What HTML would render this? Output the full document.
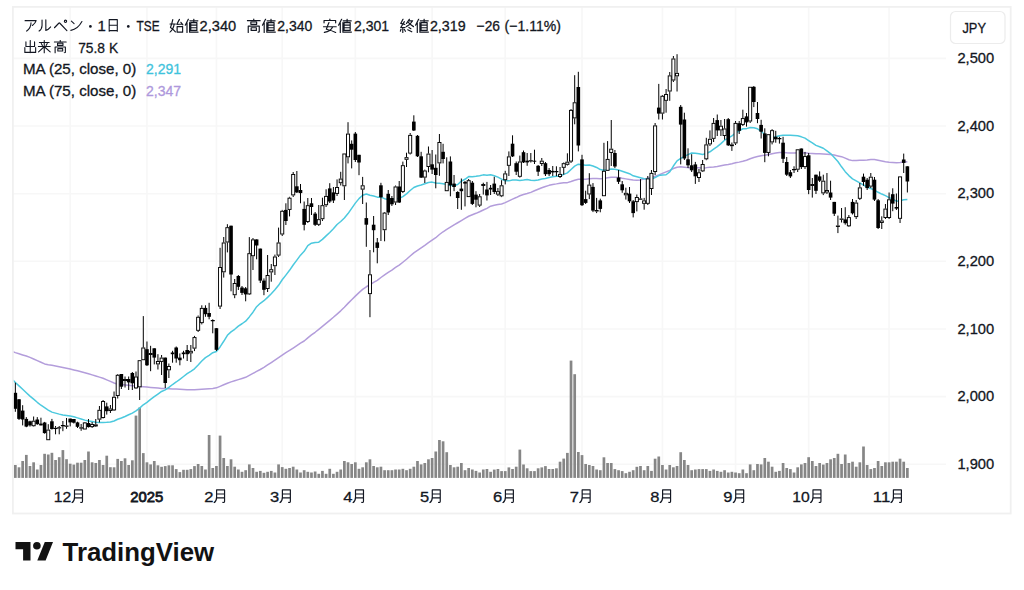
<!DOCTYPE html>
<html><head><meta charset="utf-8"><title>TradingView chart</title>
<style>html,body{margin:0;padding:0;background:#fff;width:1024px;height:590px;overflow:hidden}
svg{display:block;font-family:"Liberation Sans",sans-serif}</style></head>
<body><svg width="1024" height="590" viewBox="0 0 1024 590">
<defs><symbol id="g_a" viewBox="0 0 100 100"><path d="M8 16 H90 Q84 36 62 52 M52 32 Q52 70 20 93" fill="none" stroke="currentColor" stroke-width="8.2" stroke-linecap="round" stroke-linejoin="round"/></symbol><symbol id="g_ru" viewBox="0 0 100 100"><path d="M30 12 V52 Q29 80 8 93 M58 10 V88 Q76 84 94 62" fill="none" stroke="currentColor" stroke-width="8.2" stroke-linecap="round" stroke-linejoin="round"/></symbol><symbol id="g_pe" viewBox="0 0 100 100"><path d="M3 66 L34 34 Q38 30 42 34 L92 86 M82 20 m-8 0 a8 8 0 1 0 16 0 a8 8 0 1 0 -16 0" fill="none" stroke="currentColor" stroke-width="8.2" stroke-linecap="round" stroke-linejoin="round"/></symbol><symbol id="g_n" viewBox="0 0 100 100"><path d="M14 20 L34 38 M10 88 Q62 78 92 22" fill="none" stroke="currentColor" stroke-width="8.2" stroke-linecap="round" stroke-linejoin="round"/></symbol><symbol id="g_hi" viewBox="0 0 100 100"><path d="M20 8 V94 M20 8 H80 V94 M20 50 H80 M20 90 H80" fill="none" stroke="currentColor" stroke-width="8.2" stroke-linecap="round" stroke-linejoin="round"/></symbol><symbol id="g_tsuki" viewBox="0 0 100 100"><path d="M27 8 V58 Q27 84 10 96 M27 8 H82 V86 Q82 96 70 94 M27 36 H82 M27 62 H82" fill="none" stroke="currentColor" stroke-width="8.2" stroke-linecap="round" stroke-linejoin="round"/></symbol><symbol id="g_de" viewBox="0 0 100 100"><path d="M50 4 V94 M18 14 V48 H82 V14 M10 56 V92 H90 V56" fill="none" stroke="currentColor" stroke-width="8.2" stroke-linecap="round" stroke-linejoin="round"/></symbol><symbol id="g_rai" viewBox="0 0 100 100"><path d="M14 18 H86 M6 48 H94 M50 4 V96 M28 26 L36 40 M72 26 L64 40 M47 52 L8 88 M53 52 L94 88" fill="none" stroke="currentColor" stroke-width="8.2" stroke-linecap="round" stroke-linejoin="round"/></symbol><symbol id="g_taka" viewBox="0 0 100 100"><path d="M50 2 V14 M6 15 H94 M30 24 H70 V40 H30 Z M12 96 V52 H88 V90 Q88 95 80 94 M32 64 H68 V82 H32 Z" fill="none" stroke="currentColor" stroke-width="8.2" stroke-linecap="round" stroke-linejoin="round"/></symbol><symbol id="g_yasu" viewBox="0 0 100 100"><path d="M50 2 V13 M10 30 V14 H90 V30 M6 57 H94 M44 28 Q32 55 26 74 Q62 82 90 96 M70 57 Q56 88 12 96" fill="none" stroke="currentColor" stroke-width="8.2" stroke-linecap="round" stroke-linejoin="round"/></symbol><symbol id="g_haji" viewBox="0 0 100 100"><path d="M4 38 H42 M24 8 Q16 45 8 62 Q26 72 42 92 M34 38 Q28 76 4 94 M70 6 L52 40 L90 38 M80 26 L94 44 M54 56 H92 V94 H54 Z" fill="none" stroke="currentColor" stroke-width="8.2" stroke-linecap="round" stroke-linejoin="round"/></symbol><symbol id="g_ne" viewBox="0 0 100 100"><path d="M30 4 L8 46 M20 30 V96 M40 16 H96 M67 4 V26 M46 28 H88 V82 H46 Z M46 46 H88 M46 64 H88 M38 94 H98 M38 28 V94" fill="none" stroke="currentColor" stroke-width="8.2" stroke-linecap="round" stroke-linejoin="round"/></symbol><symbol id="g_owa" viewBox="0 0 100 100"><path d="M24 4 L8 34 L36 40 M33 22 L8 62 H38 M22 62 V96 M10 74 L4 88 M32 74 L40 88 M68 4 L48 34 M60 16 H90 Q74 44 46 56 M62 28 Q76 44 96 56 M64 62 L78 70 M56 78 L84 92" fill="none" stroke="currentColor" stroke-width="8.2" stroke-linecap="round" stroke-linejoin="round"/></symbol></defs>
<rect width="1024" height="590" fill="#fff"/>
<line x1="13" y1="58.4" x2="946" y2="58.4" stroke="#f7f7f7" stroke-width="1.6"/><line x1="13" y1="126.04" x2="946" y2="126.04" stroke="#f7f7f7" stroke-width="1.6"/><line x1="13" y1="193.68" x2="946" y2="193.68" stroke="#f7f7f7" stroke-width="1.6"/><line x1="13" y1="261.32" x2="946" y2="261.32" stroke="#f7f7f7" stroke-width="1.6"/><line x1="13" y1="328.96" x2="946" y2="328.96" stroke="#f7f7f7" stroke-width="1.6"/><line x1="13" y1="396.6" x2="946" y2="396.6" stroke="#f7f7f7" stroke-width="1.6"/><line x1="13" y1="464.24" x2="946" y2="464.24" stroke="#f7f7f7" stroke-width="1.6"/><line x1="70.19" y1="7" x2="70.19" y2="478" stroke="#f7f7f7" stroke-width="1.6"/><line x1="146.96" y1="7" x2="146.96" y2="478" stroke="#f7f7f7" stroke-width="1.6"/><line x1="216.42" y1="7" x2="216.42" y2="478" stroke="#f7f7f7" stroke-width="1.6"/><line x1="282.22" y1="7" x2="282.22" y2="478" stroke="#f7f7f7" stroke-width="1.6"/><line x1="355.34" y1="7" x2="355.34" y2="478" stroke="#f7f7f7" stroke-width="1.6"/><line x1="432.11" y1="7" x2="432.11" y2="478" stroke="#f7f7f7" stroke-width="1.6"/><line x1="505.23" y1="7" x2="505.23" y2="478" stroke="#f7f7f7" stroke-width="1.6"/><line x1="582" y1="7" x2="582" y2="478" stroke="#f7f7f7" stroke-width="1.6"/><line x1="662.43" y1="7" x2="662.43" y2="478" stroke="#f7f7f7" stroke-width="1.6"/><line x1="735.54" y1="7" x2="735.54" y2="478" stroke="#f7f7f7" stroke-width="1.6"/><line x1="808.66" y1="7" x2="808.66" y2="478" stroke="#f7f7f7" stroke-width="1.6"/><line x1="889.09" y1="7" x2="889.09" y2="478" stroke="#f7f7f7" stroke-width="1.6"/><g fill="#868686"><rect x="14" y="465" width="2.7" height="12.9"/><rect x="17.66" y="467.3" width="2.7" height="10.6"/><rect x="21.31" y="461" width="2.7" height="16.9"/><rect x="24.97" y="454.9" width="2.7" height="23"/><rect x="28.62" y="466" width="2.7" height="11.9"/><rect x="32.28" y="462.3" width="2.7" height="15.6"/><rect x="35.93" y="469.5" width="2.7" height="8.4"/><rect x="39.59" y="465" width="2.7" height="12.9"/><rect x="43.25" y="453.8" width="2.7" height="24.1"/><rect x="46.9" y="454.5" width="2.7" height="23.4"/><rect x="50.56" y="452.8" width="2.7" height="25.1"/><rect x="54.21" y="460" width="2.7" height="17.9"/><rect x="57.87" y="457.2" width="2.7" height="20.7"/><rect x="61.53" y="450.1" width="2.7" height="27.8"/><rect x="65.18" y="459.2" width="2.7" height="18.7"/><rect x="68.84" y="463.7" width="2.7" height="14.2"/><rect x="72.49" y="464.6" width="2.7" height="13.3"/><rect x="76.15" y="462.7" width="2.7" height="15.2"/><rect x="79.8" y="462.7" width="2.7" height="15.2"/><rect x="83.46" y="460" width="2.7" height="17.9"/><rect x="87.12" y="451.5" width="2.7" height="26.4"/><rect x="90.77" y="462.3" width="2.7" height="15.6"/><rect x="94.43" y="463" width="2.7" height="14.9"/><rect x="98.08" y="460" width="2.7" height="17.9"/><rect x="101.74" y="465" width="2.7" height="12.9"/><rect x="105.4" y="455.7" width="2.7" height="22.2"/><rect x="109.05" y="467.2" width="2.7" height="10.7"/><rect x="112.71" y="467.3" width="2.7" height="10.6"/><rect x="116.36" y="458.9" width="2.7" height="19"/><rect x="120.02" y="461" width="2.7" height="16.9"/><rect x="123.67" y="458.3" width="2.7" height="19.6"/><rect x="127.33" y="465" width="2.7" height="12.9"/><rect x="130.99" y="460.3" width="2.7" height="17.6"/><rect x="134.64" y="415.6" width="2.7" height="62.3"/><rect x="138.3" y="407.5" width="2.7" height="70.4"/><rect x="141.95" y="453.1" width="2.7" height="24.8"/><rect x="145.61" y="462.3" width="2.7" height="15.6"/><rect x="149.26" y="464.4" width="2.7" height="13.5"/><rect x="152.92" y="461" width="2.7" height="16.9"/><rect x="156.58" y="465.3" width="2.7" height="12.6"/><rect x="160.23" y="466.8" width="2.7" height="11.1"/><rect x="163.89" y="466.1" width="2.7" height="11.8"/><rect x="167.54" y="465.3" width="2.7" height="12.6"/><rect x="171.2" y="465.3" width="2.7" height="12.6"/><rect x="174.86" y="469.1" width="2.7" height="8.8"/><rect x="178.51" y="472.1" width="2.7" height="5.8"/><rect x="182.17" y="469.8" width="2.7" height="8.1"/><rect x="185.82" y="469.8" width="2.7" height="8.1"/><rect x="189.48" y="469.1" width="2.7" height="8.8"/><rect x="193.13" y="466.1" width="2.7" height="11.8"/><rect x="196.79" y="464" width="2.7" height="13.9"/><rect x="200.45" y="466" width="2.7" height="11.9"/><rect x="204.1" y="469.5" width="2.7" height="8.4"/><rect x="207.76" y="435" width="2.7" height="42.9"/><rect x="211.41" y="468" width="2.7" height="9.9"/><rect x="215.07" y="466" width="2.7" height="11.9"/><rect x="218.72" y="435.6" width="2.7" height="42.3"/><rect x="222.38" y="458" width="2.7" height="19.9"/><rect x="226.04" y="466" width="2.7" height="11.9"/><rect x="229.69" y="459.3" width="2.7" height="18.6"/><rect x="233.35" y="466.7" width="2.7" height="11.2"/><rect x="237" y="469.5" width="2.7" height="8.4"/><rect x="240.66" y="471.8" width="2.7" height="6.1"/><rect x="244.32" y="470.2" width="2.7" height="7.7"/><rect x="247.97" y="464.4" width="2.7" height="13.5"/><rect x="251.63" y="468" width="2.7" height="9.9"/><rect x="255.28" y="471.8" width="2.7" height="6.1"/><rect x="258.94" y="470.9" width="2.7" height="7"/><rect x="262.59" y="472.8" width="2.7" height="5.1"/><rect x="266.25" y="471.8" width="2.7" height="6.1"/><rect x="269.91" y="470.9" width="2.7" height="7"/><rect x="273.56" y="472.5" width="2.7" height="5.4"/><rect x="277.22" y="464.4" width="2.7" height="13.5"/><rect x="280.87" y="467.1" width="2.7" height="10.8"/><rect x="284.53" y="468.8" width="2.7" height="9.1"/><rect x="288.19" y="468" width="2.7" height="9.9"/><rect x="291.84" y="466.7" width="2.7" height="11.2"/><rect x="295.5" y="469.5" width="2.7" height="8.4"/><rect x="299.15" y="472.5" width="2.7" height="5.4"/><rect x="302.81" y="470.2" width="2.7" height="7.7"/><rect x="306.46" y="471.8" width="2.7" height="6.1"/><rect x="310.12" y="472.5" width="2.7" height="5.4"/><rect x="313.78" y="471.5" width="2.7" height="6.4"/><rect x="317.43" y="473.8" width="2.7" height="4.1"/><rect x="321.09" y="470.9" width="2.7" height="7"/><rect x="324.74" y="473.8" width="2.7" height="4.1"/><rect x="328.4" y="468.8" width="2.7" height="9.1"/><rect x="332.05" y="473.8" width="2.7" height="4.1"/><rect x="335.71" y="471.8" width="2.7" height="6.1"/><rect x="339.37" y="469.5" width="2.7" height="8.4"/><rect x="343.02" y="461" width="2.7" height="16.9"/><rect x="346.68" y="462.3" width="2.7" height="15.6"/><rect x="350.33" y="464" width="2.7" height="13.9"/><rect x="353.99" y="462.3" width="2.7" height="15.6"/><rect x="357.65" y="468.8" width="2.7" height="9.1"/><rect x="361.3" y="467.3" width="2.7" height="10.6"/><rect x="364.96" y="462.3" width="2.7" height="15.6"/><rect x="368.61" y="459.3" width="2.7" height="18.6"/><rect x="372.27" y="466" width="2.7" height="11.9"/><rect x="375.92" y="467.3" width="2.7" height="10.6"/><rect x="379.58" y="466.7" width="2.7" height="11.2"/><rect x="383.24" y="470.2" width="2.7" height="7.7"/><rect x="386.89" y="470.2" width="2.7" height="7.7"/><rect x="390.55" y="470.2" width="2.7" height="7.7"/><rect x="394.2" y="469.5" width="2.7" height="8.4"/><rect x="397.86" y="469.5" width="2.7" height="8.4"/><rect x="401.51" y="468.8" width="2.7" height="9.1"/><rect x="405.17" y="470.2" width="2.7" height="7.7"/><rect x="408.83" y="468.8" width="2.7" height="9.1"/><rect x="412.48" y="466.7" width="2.7" height="11.2"/><rect x="416.14" y="461" width="2.7" height="16.9"/><rect x="419.79" y="464.4" width="2.7" height="13.5"/><rect x="423.45" y="463" width="2.7" height="14.9"/><rect x="427.11" y="459.3" width="2.7" height="18.6"/><rect x="430.76" y="458" width="2.7" height="19.9"/><rect x="434.42" y="451.5" width="2.7" height="26.4"/><rect x="438.07" y="440" width="2.7" height="37.9"/><rect x="441.73" y="441.3" width="2.7" height="36.6"/><rect x="445.38" y="452.2" width="2.7" height="25.7"/><rect x="449.04" y="465" width="2.7" height="12.9"/><rect x="452.7" y="467.3" width="2.7" height="10.6"/><rect x="456.35" y="466.7" width="2.7" height="11.2"/><rect x="460.01" y="463" width="2.7" height="14.9"/><rect x="463.66" y="470.2" width="2.7" height="7.7"/><rect x="467.32" y="468" width="2.7" height="9.9"/><rect x="470.98" y="469.5" width="2.7" height="8.4"/><rect x="474.63" y="470.9" width="2.7" height="7"/><rect x="478.29" y="472.5" width="2.7" height="5.4"/><rect x="481.94" y="469.5" width="2.7" height="8.4"/><rect x="485.6" y="469" width="2.7" height="8.9"/><rect x="489.25" y="471.8" width="2.7" height="6.1"/><rect x="492.91" y="469.6" width="2.7" height="8.3"/><rect x="496.57" y="469" width="2.7" height="8.9"/><rect x="500.22" y="471.1" width="2.7" height="6.8"/><rect x="503.88" y="471.1" width="2.7" height="6.8"/><rect x="507.53" y="467.4" width="2.7" height="10.5"/><rect x="511.19" y="469" width="2.7" height="8.9"/><rect x="514.84" y="466.7" width="2.7" height="11.2"/><rect x="518.5" y="449.6" width="2.7" height="28.3"/><rect x="522.16" y="464.5" width="2.7" height="13.4"/><rect x="525.81" y="468.3" width="2.7" height="9.6"/><rect x="529.47" y="471.1" width="2.7" height="6.8"/><rect x="533.12" y="471.1" width="2.7" height="6.8"/><rect x="536.78" y="468.3" width="2.7" height="9.6"/><rect x="540.44" y="467.4" width="2.7" height="10.5"/><rect x="544.09" y="466.1" width="2.7" height="11.8"/><rect x="547.75" y="469" width="2.7" height="8.9"/><rect x="551.4" y="469" width="2.7" height="8.9"/><rect x="555.06" y="468.3" width="2.7" height="9.6"/><rect x="558.71" y="461.7" width="2.7" height="16.2"/><rect x="562.37" y="458.6" width="2.7" height="19.3"/><rect x="566.03" y="452.9" width="2.7" height="25"/><rect x="569.68" y="360.6" width="2.7" height="117.3"/><rect x="573.34" y="374.2" width="2.7" height="103.7"/><rect x="576.99" y="452" width="2.7" height="25.9"/><rect x="580.65" y="455.1" width="2.7" height="22.8"/><rect x="584.3" y="464" width="2.7" height="13.9"/><rect x="587.96" y="465" width="2.7" height="12.9"/><rect x="591.62" y="466" width="2.7" height="11.9"/><rect x="595.27" y="469.5" width="2.7" height="8.4"/><rect x="598.93" y="470.2" width="2.7" height="7.7"/><rect x="602.58" y="457.3" width="2.7" height="20.6"/><rect x="606.24" y="463" width="2.7" height="14.9"/><rect x="609.9" y="463" width="2.7" height="14.9"/><rect x="613.55" y="469.1" width="2.7" height="8.8"/><rect x="617.21" y="470.2" width="2.7" height="7.7"/><rect x="620.86" y="471.1" width="2.7" height="6.8"/><rect x="624.52" y="473.2" width="2.7" height="4.7"/><rect x="628.17" y="471.8" width="2.7" height="6.1"/><rect x="631.83" y="470.2" width="2.7" height="7.7"/><rect x="635.49" y="466.8" width="2.7" height="11.1"/><rect x="639.14" y="466" width="2.7" height="11.9"/><rect x="642.8" y="470.2" width="2.7" height="7.7"/><rect x="646.45" y="466" width="2.7" height="11.9"/><rect x="650.11" y="470.9" width="2.7" height="7"/><rect x="653.76" y="458.7" width="2.7" height="19.2"/><rect x="657.42" y="456.5" width="2.7" height="21.4"/><rect x="661.08" y="465" width="2.7" height="12.9"/><rect x="664.73" y="469.5" width="2.7" height="8.4"/><rect x="668.39" y="465" width="2.7" height="12.9"/><rect x="672.04" y="467.3" width="2.7" height="10.6"/><rect x="675.7" y="466" width="2.7" height="11.9"/><rect x="679.36" y="452.2" width="2.7" height="25.7"/><rect x="683.01" y="460" width="2.7" height="17.9"/><rect x="686.67" y="465" width="2.7" height="12.9"/><rect x="690.32" y="470.2" width="2.7" height="7.7"/><rect x="693.98" y="469.5" width="2.7" height="8.4"/><rect x="697.63" y="469.1" width="2.7" height="8.8"/><rect x="701.29" y="469.1" width="2.7" height="8.8"/><rect x="704.95" y="469.1" width="2.7" height="8.8"/><rect x="708.6" y="470.9" width="2.7" height="7"/><rect x="712.26" y="469.5" width="2.7" height="8.4"/><rect x="715.91" y="470.9" width="2.7" height="7"/><rect x="719.57" y="471.8" width="2.7" height="6.1"/><rect x="723.23" y="470.2" width="2.7" height="7.7"/><rect x="726.88" y="472.5" width="2.7" height="5.4"/><rect x="730.54" y="471.8" width="2.7" height="6.1"/><rect x="734.19" y="472.5" width="2.7" height="5.4"/><rect x="737.85" y="473.2" width="2.7" height="4.7"/><rect x="741.5" y="469.5" width="2.7" height="8.4"/><rect x="745.16" y="473.2" width="2.7" height="4.7"/><rect x="748.82" y="464.4" width="2.7" height="13.5"/><rect x="752.47" y="470.2" width="2.7" height="7.7"/><rect x="756.13" y="464" width="2.7" height="13.9"/><rect x="759.78" y="464.4" width="2.7" height="13.5"/><rect x="763.44" y="458" width="2.7" height="19.9"/><rect x="767.09" y="461.7" width="2.7" height="16.2"/><rect x="770.75" y="466.7" width="2.7" height="11.2"/><rect x="774.41" y="471.8" width="2.7" height="6.1"/><rect x="778.06" y="470.9" width="2.7" height="7"/><rect x="781.72" y="463" width="2.7" height="14.9"/><rect x="785.37" y="468" width="2.7" height="9.9"/><rect x="789.03" y="469.1" width="2.7" height="8.8"/><rect x="792.69" y="472.5" width="2.7" height="5.4"/><rect x="796.34" y="467.3" width="2.7" height="10.6"/><rect x="800" y="464.4" width="2.7" height="13.5"/><rect x="803.65" y="463" width="2.7" height="14.9"/><rect x="807.31" y="457.2" width="2.7" height="20.7"/><rect x="810.96" y="461" width="2.7" height="16.9"/><rect x="814.62" y="466" width="2.7" height="11.9"/><rect x="818.28" y="463" width="2.7" height="14.9"/><rect x="821.93" y="464.6" width="2.7" height="13.3"/><rect x="825.59" y="463" width="2.7" height="14.9"/><rect x="829.24" y="459.3" width="2.7" height="18.6"/><rect x="832.9" y="458" width="2.7" height="19.9"/><rect x="836.56" y="453.8" width="2.7" height="24.1"/><rect x="840.21" y="464" width="2.7" height="13.9"/><rect x="843.87" y="454.5" width="2.7" height="23.4"/><rect x="847.52" y="463" width="2.7" height="14.9"/><rect x="851.18" y="461.7" width="2.7" height="16.2"/><rect x="854.83" y="466.7" width="2.7" height="11.2"/><rect x="858.49" y="462.3" width="2.7" height="15.6"/><rect x="862.15" y="446.5" width="2.7" height="31.4"/><rect x="865.8" y="465" width="2.7" height="12.9"/><rect x="869.46" y="469.1" width="2.7" height="8.8"/><rect x="873.11" y="468" width="2.7" height="9.9"/><rect x="876.77" y="461" width="2.7" height="16.9"/><rect x="880.42" y="466" width="2.7" height="11.9"/><rect x="884.08" y="462.3" width="2.7" height="15.6"/><rect x="887.74" y="462.3" width="2.7" height="15.6"/><rect x="891.39" y="461.7" width="2.7" height="16.2"/><rect x="895.05" y="461.7" width="2.7" height="16.2"/><rect x="898.7" y="458.7" width="2.7" height="19.2"/><rect x="902.36" y="461.7" width="2.7" height="16.2"/><rect x="906.02" y="468" width="2.7" height="9.9"/></g><polyline points="13,351.82 15.35,352.62 19.01,353.76 22.66,354.91 26.32,356.05 29.97,357.37 33.63,359.01 37.28,360.66 40.94,362.3 44.6,363.94 48.25,364.76 51.91,365.35 55.56,365.93 59.22,366.66 62.88,367.44 66.53,368.22 70.19,369.02 73.84,369.93 77.5,370.84 81.15,371.74 84.81,372.66 88.47,373.78 92.12,374.89 95.78,376 99.43,377.11 103.09,378.24 106.75,379.84 110.4,381.43 114.06,383.03 117.71,384.22 121.37,384.6 125.02,384.98 128.68,385.35 132.34,385.73 135.99,386.11 139.65,386.45 143.3,386.78 146.96,387.12 150.61,387.45 154.27,387.79 157.93,388.12 161.58,388.43 165.24,388.6 168.89,388.77 172.55,388.95 176.21,389.12 179.86,389.29 183.52,389.48 187.17,389.66 190.83,389.85 194.48,389.71 198.14,389.45 201.8,389.19 205.45,388.93 209.11,388.67 212.76,388.4 216.42,387.86 220.07,386.32 223.73,384.79 227.39,383.25 231.04,381.85 234.7,380.74 238.35,379.62 242.01,378.5 245.67,377.3 249.32,375.35 252.98,373.4 256.63,371.45 260.29,369.5 263.94,367.44 267.6,364.99 271.26,362.55 274.91,360.1 278.57,357.66 282.22,355.16 285.88,352.55 289.54,350.43 293.19,348.08 296.85,345.63 300.5,343.1 304.16,341.02 307.81,337.85 311.47,334.95 315.13,332.28 318.78,329.43 322.44,326.44 326.09,323.33 329.75,320.31 333.4,317.29 337.06,314.11 340.72,310.82 344.37,307.24 348.03,303.38 351.68,299.69 355.34,296.12 359,292.66 362.65,289.43 366.31,286.78 369.96,284.78 373.62,282.38 377.27,280.34 380.93,277.49 384.59,274.87 388.24,272.42 391.9,270.14 395.55,267.47 399.21,265.12 402.86,262.23 406.52,259.21 410.18,255.99 413.83,252.93 417.49,250.38 421.14,247.87 424.8,245.44 428.46,242.72 432.11,240.17 435.77,237.73 439.42,234.52 443.08,231.76 446.73,229.46 450.39,227.15 454.05,224.85 457.7,222.76 461.36,220.59 465.01,218.36 468.67,216.27 472.33,214.76 475.98,213.32 479.64,211.75 483.29,209.98 486.95,208.32 490.6,206.18 494.26,205.18 497.92,204.49 501.57,203.94 505.23,202.59 508.88,200.9 512.54,199.16 516.19,197.55 519.85,195.77 523.51,194.56 527.16,193.54 530.82,192.4 534.47,190.81 538.13,189.24 541.79,187.71 545.44,186.45 549.1,185.35 552.75,184.41 556.41,183.88 560.06,183.25 563.72,182.79 567.38,182.63 571.03,181.53 574.69,180.32 578.34,179.26 582,179.26 585.65,179.21 589.31,178.67 592.97,178.56 596.62,178.62 600.28,178.79 603.93,178.39 607.59,177.83 611.25,177.32 614.9,177.16 618.56,177.54 622.21,178.29 625.87,178.87 629.52,179.42 633.18,180.09 636.84,180.25 640.49,179.9 644.15,178.91 647.8,178.22 651.46,177.22 655.12,176.27 658.77,174.95 662.43,173.39 666.08,171.92 669.74,170.44 673.39,168.52 677.05,167.29 680.71,166.85 684.36,167.17 688.02,167.63 691.67,167.82 695.33,167.8 698.98,167.82 702.64,167.96 706.3,167.63 709.95,167.14 713.61,166.89 717.26,166.51 720.92,165.76 724.58,165 728.23,164.45 731.89,163.73 735.54,162.82 739.2,162.12 742.85,161.29 746.51,160.2 750.17,158.7 753.82,157.44 757.48,156.57 761.13,155.72 764.79,155.23 768.44,154.46 772.1,153.65 775.76,153.04 779.41,152.57 783.07,152.6 786.72,152.84 790.38,152.9 794.04,153 797.69,152.83 801.35,152.89 805,152.84 808.66,153.22 812.31,153.38 815.97,153.78 819.63,153.87 823.28,153.96 826.94,154.19 830.59,154.55 834.25,155.08 837.91,155.91 841.56,156.66 845.22,158.17 848.87,159.71 852.53,160.61 856.18,160.57 859.84,160.37 863.5,160.33 867.15,160.03 870.81,159.59 874.46,159.47 878.12,160.23 881.77,161.05 885.43,161.85 889.09,162.29 892.74,162.58 896.4,162.82 900.05,162.6 903.71,162.09 907.37,161.67" fill="none" stroke="#b39ddb" stroke-width="1.5" stroke-linejoin="round"/><polyline points="13,380.1 15.35,382.49 19.01,385.9 22.66,389.31 26.32,392.72 29.97,396.09 33.63,399.19 37.28,402.29 40.94,405.22 44.6,407.62 48.25,410.03 51.91,412.12 55.56,413.12 59.22,414.11 62.88,414.91 66.53,415.51 70.19,416.11 73.84,416.79 77.5,417.9 81.15,419.01 84.81,420.12 88.47,420.9 92.12,421.61 95.78,422.32 99.43,422.6 103.09,422.39 106.75,422.33 110.4,422.07 114.06,420.95 117.71,419.29 121.37,417.93 125.02,416.47 128.68,414.8 132.34,413.11 135.99,410.85 139.65,408.07 143.3,404.81 146.96,402.31 150.61,399.34 154.27,396.65 157.93,394.07 161.58,391.48 165.24,389.89 168.89,387.46 172.55,384.53 176.21,381.98 179.86,379.3 183.52,376.51 187.17,373.7 190.83,371.34 194.48,368.78 198.14,365.01 201.8,360.98 205.45,357.68 209.11,355.36 212.76,352.69 216.42,351.52 220.07,346.91 223.73,341.28 227.39,335.3 231.04,331.88 234.7,329.3 238.35,326.16 242.01,323.75 245.67,321.22 249.32,316.91 252.98,312.18 256.63,306.68 260.29,303.27 263.94,300.69 267.6,297.35 271.26,293.71 274.91,289.8 278.57,285.34 282.22,279.74 285.88,275.09 289.54,270.33 293.19,264.97 296.85,260.1 300.5,255.15 304.16,251.34 307.81,245.56 311.47,243.16 315.13,242.45 318.78,242.13 322.44,239.36 326.09,235.88 329.75,232.46 333.4,228.77 337.06,224.47 340.72,221.49 344.37,218.05 348.03,213.58 351.68,208.34 355.34,203.15 359,198.65 362.65,195.29 366.31,194.02 369.96,195.29 373.62,196.07 377.27,197.14 380.93,197.12 384.59,198.67 388.24,199.47 391.9,199.92 395.55,198.39 399.21,198.28 402.86,196.61 406.52,193.9 410.18,190.53 413.83,187.54 417.49,185.96 421.14,185 424.8,183.8 428.46,182.47 432.11,182.11 435.77,182.97 439.42,183.3 443.08,183.68 446.73,184.55 450.39,185.46 454.05,185.53 457.7,184.46 461.36,181.14 465.01,179.28 468.67,176.57 472.33,176.84 475.98,176.32 479.64,175.67 483.29,174.86 486.95,175.22 490.6,174.7 494.26,175.77 497.92,177.13 501.57,179.14 505.23,180.86 508.88,180.86 512.54,180.02 516.19,180.06 519.85,180.38 523.51,180.09 527.16,179.59 530.82,180.32 534.47,180.42 538.13,180.01 541.79,179.02 545.44,178.51 549.1,177.56 552.75,176.81 556.41,176.3 560.06,176.05 563.72,174.42 567.38,172.9 571.03,169.45 574.69,166.18 578.34,164.18 582,164.81 585.65,165.25 589.31,164.98 592.97,166 596.62,167.46 600.28,169.56 603.93,170.14 607.59,169.62 611.25,169.11 614.9,169.28 618.56,170.05 622.21,171.26 625.87,172.51 629.52,173.69 633.18,175.79 636.84,176.7 640.49,177.67 644.15,178.79 647.8,179.09 651.46,179.05 655.12,177.54 658.77,175.61 662.43,175.05 666.08,174.72 669.74,171.91 673.39,166.04 677.05,160.84 680.71,158.44 684.36,156.36 688.02,154.57 691.67,153.03 695.33,153.25 698.98,153.78 702.64,154.4 706.3,153.51 709.95,151.79 713.61,149.1 717.26,146.6 720.92,143.58 724.58,140.19 728.23,138.12 731.89,135.96 735.54,132.86 739.2,130.96 742.85,128.76 746.51,128.64 750.17,127.57 753.82,127.82 757.48,128.82 761.13,131.07 764.79,134.85 768.44,137.3 772.1,137.52 775.76,136.76 779.41,135.66 783.07,135.2 786.72,135.14 790.38,135.3 794.04,135.5 797.69,135.7 801.35,136.83 805,138.16 808.66,140.54 812.31,142.88 815.97,145.37 819.63,146.78 823.28,148.24 826.94,150.92 830.59,153.59 834.25,157.42 837.91,161.54 841.56,166.81 845.22,171.66 848.87,175.58 852.53,178.84 856.18,180.83 859.84,182.96 863.5,185.03 867.15,186.98 870.81,188.53 874.46,190.16 878.12,192.3 881.77,194.06 885.43,195.64 889.09,197.64 892.74,199.1 896.4,201.2 900.05,200.66 903.71,199.82 907.37,199.44" fill="none" stroke="#4cc9de" stroke-width="1.5" stroke-linejoin="round"/><path d="M15.35 382.7V411.8M19.01 399V420M22.66 405.2V425.4M26.32 417.1V427.2M29.97 420.7V426.6M33.63 416.5V420.7M33.63 426.2V426.6M37.28 417.1V424.8M40.94 417.7V425.4M44.6 421.9V433.7M48.25 424.2V429.6M51.91 418.9V429.6M55.56 426V427.8M55.56 429V434.3M59.22 426V427.2M59.22 428.2V434.3M62.88 421V425M62.88 426V431.2M66.53 418V425.5M66.53 426.5V428.8M70.19 418.6V426.4M73.84 419V423.5M77.5 421.7V428M81.15 424V427.3M81.15 428.3V430.8M84.81 422V422.4M88.47 419V427.5M92.12 422V424M92.12 427.1V428M95.78 419V424.4M95.78 426.4V427M99.43 406V409.8M99.43 419.6V422.4M103.09 400V401M103.09 418V418.5M106.75 402.7V414.6M110.4 405V408.5M110.4 411V413M114.06 391.5V396.8M114.06 410.4V411M117.71 374V374.8M117.71 396V398.5M121.37 374V389M125.02 376.5V379M125.02 381V387.5M128.68 376.5V390M132.34 372V390M135.99 371.5V376.5M135.99 388.4V389M139.65 387.3V400M143.3 316.1V347.5M146.96 341.5V366M150.61 345.8V353M150.61 355V371.2M154.27 348.3V364.4M157.93 354.2V361M157.93 364.4V369.5M161.58 355V357.6M161.58 361.9V375M165.24 357.6V388M168.89 363.5V366M168.89 370.3V378M172.55 350.8V362.7M176.21 346.5V362.7M179.86 353.4V365.3M183.52 350.8V358.5M187.17 345V361M190.83 345V350.8M190.83 353.4V362M194.48 335.9V337.1M194.48 348.6V351.1M198.14 315.5V316.8M198.14 330.8V332M201.8 305.3V307.9M201.8 323.1V324.4M205.45 305.3V316.8M209.11 302.8V319.3M212.76 319.3V320M212.76 321V333.3M216.42 328V351M220.07 247.8V267M220.07 306.6V309M223.73 237V242.5M223.73 272.3V277.6M227.39 224.2V227.2M227.39 242.5V252.4M231.04 225.7V291.3M234.7 279V283M234.7 295.2V298.2M238.35 275V290M242.01 286V295M245.67 287V301.3M249.32 237.1V253.2M249.32 294.4V295M252.98 238V239.4M252.98 256.2V270M256.63 239.4V259.3M260.29 248.6V283M263.94 278.4V295.2M267.6 255V275M267.6 289V292M271.26 264V269.2M271.26 272.4V281.7M274.91 254.6V256.5M274.91 266.2V275M278.57 227.6V242.5M278.57 255.6V257M282.22 209.9V210.8M282.22 234.5V236M285.88 203.3V225M289.54 196.8V197.7M289.54 209.9V216.4M293.19 172V174M293.19 195.4V197M296.85 171V193M300.5 184V203.3M304.16 201.5V230.4M307.81 198V205.2M307.81 222V223M311.47 198V215M315.13 212V226M318.78 205V219.2M318.78 224.8V226M322.44 197.7V205.2M322.44 219.2V221M326.09 189.3V195.9M326.09 205.2V207M329.75 183.2V203M333.4 187V203M337.06 179.4V187M337.06 193.9V196M340.72 171.8V178.6M340.72 183.2V185.5M344.37 186.3V200M348.03 122.2V133.6M348.03 157.3V163.4M351.68 140.4V168.4M355.34 132V162M359 154.8V175.2M362.65 176.9V185.3M362.65 189.6V204M366.31 202.5V246.8M369.96 250V274.3M369.96 294.1V317.2M373.62 216V252.3M377.27 238V263.3M380.93 182.8V241M384.59 212V212.6M384.59 230.2V241.3M388.24 190V215M391.9 196V206M395.55 185.5V186.5M395.55 202.5V205M399.21 181V203M402.86 161.6V165.2M402.86 191.9V193M406.52 152.7V157.2M406.52 159.8V167M410.18 133V134.9M410.18 153.6V154.5M413.83 115.3V131M417.49 135V157M421.14 151.8V178M424.8 169.6V170.5M424.8 177.6V183M428.46 146.5V153.6M428.46 167V172.3M432.11 150V174M435.77 154.5V188.3M439.42 134V142M439.42 163.4V175.8M443.08 143.8V163.4M446.73 157.3V181.9M450.39 156.4V196.3M454.05 175V191.2M457.7 191.2V209M461.36 178.5V209.8M465.01 181V206.4M468.67 179V180.2M472.33 181V205M475.98 191.2V207.3M479.64 194V196.3M479.64 205.6V207M483.29 182.7V184M483.29 186V194.6M486.95 181.9V200.5M490.6 185V195M494.26 176.8V194M497.92 188V191.2M497.92 194.6V196M501.57 180.2V185.3M501.57 196.3V197.1M505.23 170.8V173.4M505.23 180.2V184.4M508.88 151.4V156.4M508.88 165.8V176M512.54 135.3V157M516.19 161.5V175M519.85 155.6V161.5M519.85 176.8V177.6M523.51 150.5V163M527.16 153V165.8M530.82 153V160.2M530.82 161.2V162.5M534.47 149.7V164M538.13 165V176M541.79 158V160.7M541.79 164V166M545.44 162V176M549.1 168V176M552.75 166V176M556.41 166.3V171M556.41 172V176.2M560.06 167V173.9M560.06 177V178M563.72 162.5V163.2M563.72 167.8V174.7M567.38 153.3V161.7M567.38 164.8V165.5M571.03 109V109.9M571.03 161.6V163M574.69 75.2V102.3M574.69 118.4V124.3M578.34 71.8V151.4M582 154.8V206M585.65 190.7V204M589.31 173.2V184.6M589.31 194.5V199.1M592.97 183.1V212.1M596.62 197.9V210M596.62 211.5V213.1M600.28 198.7V212.3M603.93 142.8V170.8M607.59 141.1V158.9M611.25 120V148.7M611.25 153V166M614.9 150V168M618.56 170V184M622.21 181V192.8M625.87 187.7V192.8M625.87 195.3V199.6M629.52 187V203M633.18 200V217.4M636.84 194.5V197M636.84 202.1V211.4M640.49 179.2V198.5M644.15 197.9V200.4M644.15 203.8V209.7M647.8 176V178.4M647.8 203.8V205M651.46 170V172.9M651.46 189V195M655.12 123V125.4M655.12 172V175M658.77 83.9V119.5M662.43 95V95.8M662.43 113.6V119.5M666.08 89V94M666.08 100.8V112.7M669.74 72V75.4M669.74 91.5V100.8M673.39 56V58.5M673.39 80.5V82M677.05 54.2V72.9M677.05 76.3V91.5M680.71 105V164.4M684.36 112.7V160M688.02 148.3V168M691.67 154.2V172M695.33 161.9V183.9M698.98 169V172.3M698.98 178V182M702.64 160V164M702.64 171.4V172M706.3 137.8V144.4M706.3 159.3V160.2M709.95 130.4V138.8M709.95 144.4V146M713.61 118V122.9M713.61 138.8V142M717.26 114.5V136M720.92 120V125.7M720.92 130.4V136M724.58 119V128.5M724.58 136V139.7M728.23 118V146M731.89 142.5V144.4M731.89 146.2V150.9M735.54 121V122.9M735.54 143.4V145M739.2 121V134M742.85 109.7V118.1M742.85 124.9V126M746.51 113V126.6M750.17 121.5V123M753.82 86V107.1M757.48 102V123.2M761.13 119.8V138.5M764.79 128.3V162.2M768.44 152.9V156.3M772.1 129.2V130.2M772.1 142.4V144.4M775.76 130.8V142.7M779.41 136.8V138M779.41 139V143.6M783.07 136.8V163M786.72 157V176M790.38 170V178M794.04 166.3V169M794.04 170V173M797.69 169.7V172M801.35 148.5V169M805 151.9V156.1M805 167.1V169M808.66 153V194.2M812.31 178V184M812.31 186V197.6M815.97 174.7V194M819.63 171.4V182M823.28 174.7V180.7M823.28 193.4V195.1M826.94 173V190M826.94 192.5V194M830.59 180.7V200M834.25 201.9V216M837.91 215.6V225.5M837.91 227V233.1M841.56 208V218.5M841.56 219.8V222.5M845.22 207.2V224.7M848.87 215V217.1M848.87 226.3V227M852.53 199V214.5M856.18 200V202.6M856.18 217.1V219M859.84 183V187.4M859.84 198.8V200M863.5 173.6V185.8M867.15 178V190M870.81 173V176.7M870.81 186.6V188M874.46 177V201M878.12 199V229M881.77 216.3V220.5M881.77 223V229M885.43 204V208.6M885.43 218V219M889.09 192.5V199.3M889.09 218V219M892.74 188.3V211.2M896.4 193.5V210M900.05 218.8V223M903.71 153.6V173M907.37 166.3V192.5" stroke="#000" stroke-width="1" fill="none"/><rect x="13.55" y="392.8" width="3.6" height="16" fill="#000"/><rect x="17.21" y="399.3" width="3.6" height="19.6" fill="#000"/><rect x="20.86" y="410.6" width="3.6" height="8.9" fill="#000"/><rect x="24.52" y="418.9" width="3.6" height="7.7" fill="#000"/><rect x="28.17" y="421.3" width="3.6" height="4.1" fill="#000"/><rect x="32.1" y="421.18" width="3.05" height="4.55" fill="#fff" stroke="#000" stroke-width="0.95"/><rect x="35.48" y="419.5" width="3.6" height="4.7" fill="#000"/><rect x="39.14" y="423.6" width="3.6" height="1.8" fill="#000"/><rect x="42.8" y="422.5" width="3.6" height="10.6" fill="#000"/><rect x="46.73" y="430.08" width="3.05" height="9.65" fill="#fff" stroke="#000" stroke-width="0.95"/><rect x="50.11" y="421.3" width="3.6" height="7.7" fill="#000"/><rect x="54.04" y="428.28" width="3.05" height="0.3" fill="#fff" stroke="#000" stroke-width="0.95"/><rect x="57.69" y="427.68" width="3.05" height="0.3" fill="#fff" stroke="#000" stroke-width="0.95"/><rect x="61.35" y="425.48" width="3.05" height="0.3" fill="#fff" stroke="#000" stroke-width="0.95"/><rect x="65.01" y="425.98" width="3.05" height="0.3" fill="#fff" stroke="#000" stroke-width="0.95"/><rect x="68.39" y="418.6" width="3.6" height="3.8" fill="#000"/><rect x="72.04" y="419" width="3.6" height="3.7" fill="#000"/><rect x="75.7" y="422.4" width="3.6" height="4.4" fill="#000"/><rect x="79.63" y="427.78" width="3.05" height="0.3" fill="#fff" stroke="#000" stroke-width="0.95"/><rect x="83.29" y="422.88" width="3.05" height="6.15" fill="#fff" stroke="#000" stroke-width="0.95"/><rect x="86.67" y="423" width="3.6" height="4.1" fill="#000"/><rect x="90.6" y="424.48" width="3.05" height="2.15" fill="#fff" stroke="#000" stroke-width="0.95"/><rect x="94.25" y="424.88" width="3.05" height="1.05" fill="#fff" stroke="#000" stroke-width="0.95"/><rect x="97.91" y="410.28" width="3.05" height="8.85" fill="#fff" stroke="#000" stroke-width="0.95"/><rect x="101.56" y="401.48" width="3.05" height="16.05" fill="#fff" stroke="#000" stroke-width="0.95"/><rect x="104.95" y="406.4" width="3.6" height="4.8" fill="#000"/><rect x="108.88" y="408.98" width="3.05" height="1.55" fill="#fff" stroke="#000" stroke-width="0.95"/><rect x="112.53" y="397.28" width="3.05" height="12.65" fill="#fff" stroke="#000" stroke-width="0.95"/><rect x="116.19" y="375.28" width="3.05" height="20.25" fill="#fff" stroke="#000" stroke-width="0.95"/><rect x="119.57" y="374" width="3.6" height="12.7" fill="#000"/><rect x="123.5" y="379.48" width="3.05" height="1.05" fill="#fff" stroke="#000" stroke-width="0.95"/><rect x="126.88" y="379" width="3.6" height="3.4" fill="#000"/><rect x="130.54" y="373" width="3.6" height="10.3" fill="#000"/><rect x="134.47" y="376.98" width="3.05" height="10.95" fill="#fff" stroke="#000" stroke-width="0.95"/><rect x="138.12" y="360.68" width="3.05" height="26.15" fill="#fff" stroke="#000" stroke-width="0.95"/><rect x="141.78" y="347.98" width="3.05" height="11.75" fill="#fff" stroke="#000" stroke-width="0.95"/><rect x="145.16" y="349.2" width="3.6" height="16.1" fill="#000"/><rect x="149.09" y="353.48" width="3.05" height="1.05" fill="#fff" stroke="#000" stroke-width="0.95"/><rect x="152.47" y="348.3" width="3.6" height="9.3" fill="#000"/><rect x="156.4" y="361.48" width="3.05" height="2.45" fill="#fff" stroke="#000" stroke-width="0.95"/><rect x="160.06" y="358.08" width="3.05" height="3.35" fill="#fff" stroke="#000" stroke-width="0.95"/><rect x="163.44" y="357.6" width="3.6" height="25.4" fill="#000"/><rect x="167.37" y="366.48" width="3.05" height="3.35" fill="#fff" stroke="#000" stroke-width="0.95"/><rect x="170.75" y="352.5" width="3.6" height="1.7" fill="#000"/><rect x="174.41" y="347.5" width="3.6" height="11" fill="#000"/><rect x="178.06" y="357.6" width="3.6" height="2.6" fill="#000"/><rect x="181.72" y="352.5" width="3.6" height="1.7" fill="#000"/><rect x="185.37" y="350" width="3.6" height="4.2" fill="#000"/><rect x="189.3" y="351.28" width="3.05" height="1.65" fill="#fff" stroke="#000" stroke-width="0.95"/><rect x="192.96" y="337.58" width="3.05" height="10.55" fill="#fff" stroke="#000" stroke-width="0.95"/><rect x="196.62" y="317.28" width="3.05" height="13.05" fill="#fff" stroke="#000" stroke-width="0.95"/><rect x="200.27" y="308.38" width="3.05" height="14.25" fill="#fff" stroke="#000" stroke-width="0.95"/><rect x="203.65" y="307.9" width="3.6" height="6.3" fill="#000"/><rect x="207.31" y="313" width="3.6" height="3.8" fill="#000"/><rect x="211.24" y="320.48" width="3.05" height="0.3" fill="#fff" stroke="#000" stroke-width="0.95"/><rect x="214.62" y="328.2" width="3.6" height="21.6" fill="#000"/><rect x="218.55" y="267.48" width="3.05" height="38.65" fill="#fff" stroke="#000" stroke-width="0.95"/><rect x="222.21" y="242.97" width="3.05" height="28.85" fill="#fff" stroke="#000" stroke-width="0.95"/><rect x="225.86" y="227.67" width="3.05" height="14.35" fill="#fff" stroke="#000" stroke-width="0.95"/><rect x="229.24" y="225.7" width="3.6" height="48.8" fill="#000"/><rect x="233.17" y="283.48" width="3.05" height="11.25" fill="#fff" stroke="#000" stroke-width="0.95"/><rect x="236.55" y="276" width="3.6" height="10.8" fill="#000"/><rect x="240.21" y="287.5" width="3.6" height="5.4" fill="#000"/><rect x="243.87" y="288.3" width="3.6" height="6.1" fill="#000"/><rect x="247.8" y="253.67" width="3.05" height="40.25" fill="#fff" stroke="#000" stroke-width="0.95"/><rect x="251.45" y="239.88" width="3.05" height="15.85" fill="#fff" stroke="#000" stroke-width="0.95"/><rect x="254.83" y="239.4" width="3.6" height="6.1" fill="#000"/><rect x="258.49" y="248.6" width="3.6" height="32" fill="#000"/><rect x="262.14" y="280.6" width="3.6" height="9.2" fill="#000"/><rect x="266.08" y="275.48" width="3.05" height="13.05" fill="#fff" stroke="#000" stroke-width="0.95"/><rect x="269.73" y="269.68" width="3.05" height="2.25" fill="#fff" stroke="#000" stroke-width="0.95"/><rect x="273.39" y="256.98" width="3.05" height="8.75" fill="#fff" stroke="#000" stroke-width="0.95"/><rect x="277.04" y="242.97" width="3.05" height="12.15" fill="#fff" stroke="#000" stroke-width="0.95"/><rect x="280.7" y="211.28" width="3.05" height="22.75" fill="#fff" stroke="#000" stroke-width="0.95"/><rect x="284.08" y="209.9" width="3.6" height="11.1" fill="#000"/><rect x="288.01" y="198.17" width="3.05" height="11.25" fill="#fff" stroke="#000" stroke-width="0.95"/><rect x="291.67" y="174.47" width="3.05" height="20.45" fill="#fff" stroke="#000" stroke-width="0.95"/><rect x="295.05" y="186.3" width="3.6" height="6.1" fill="#000"/><rect x="298.7" y="190" width="3.6" height="3.1" fill="#000"/><rect x="302.36" y="208.9" width="3.6" height="15.9" fill="#000"/><rect x="306.29" y="205.67" width="3.05" height="15.85" fill="#fff" stroke="#000" stroke-width="0.95"/><rect x="309.67" y="203.3" width="3.6" height="3.7" fill="#000"/><rect x="313.33" y="213.6" width="3.6" height="11.2" fill="#000"/><rect x="317.26" y="219.67" width="3.05" height="4.65" fill="#fff" stroke="#000" stroke-width="0.95"/><rect x="320.91" y="205.67" width="3.05" height="13.05" fill="#fff" stroke="#000" stroke-width="0.95"/><rect x="324.57" y="196.38" width="3.05" height="8.35" fill="#fff" stroke="#000" stroke-width="0.95"/><rect x="327.95" y="188.4" width="3.6" height="13.1" fill="#000"/><rect x="331.6" y="192.4" width="3.6" height="8.1" fill="#000"/><rect x="335.54" y="187.47" width="3.05" height="5.95" fill="#fff" stroke="#000" stroke-width="0.95"/><rect x="339.19" y="179.07" width="3.05" height="3.65" fill="#fff" stroke="#000" stroke-width="0.95"/><rect x="342.85" y="153.97" width="3.05" height="31.85" fill="#fff" stroke="#000" stroke-width="0.95"/><rect x="346.5" y="134.07" width="3.05" height="22.75" fill="#fff" stroke="#000" stroke-width="0.95"/><rect x="349.88" y="143.8" width="3.6" height="5.9" fill="#000"/><rect x="353.54" y="133.6" width="3.6" height="26.4" fill="#000"/><rect x="357.2" y="154.8" width="3.6" height="7.7" fill="#000"/><rect x="361.13" y="185.78" width="3.05" height="3.35" fill="#fff" stroke="#000" stroke-width="0.95"/><rect x="364.51" y="218.1" width="3.6" height="6.6" fill="#000"/><rect x="368.44" y="274.78" width="3.05" height="18.85" fill="#fff" stroke="#000" stroke-width="0.95"/><rect x="371.82" y="224.7" width="3.6" height="5.5" fill="#000"/><rect x="375.47" y="242.4" width="3.6" height="5.5" fill="#000"/><rect x="379.13" y="185.3" width="3.6" height="11.9" fill="#000"/><rect x="383.06" y="213.07" width="3.05" height="16.65" fill="#fff" stroke="#000" stroke-width="0.95"/><rect x="386.44" y="193.8" width="3.6" height="18.7" fill="#000"/><rect x="390.1" y="198" width="3.6" height="6.3" fill="#000"/><rect x="394.03" y="186.97" width="3.05" height="15.05" fill="#fff" stroke="#000" stroke-width="0.95"/><rect x="397.41" y="186.5" width="3.6" height="16" fill="#000"/><rect x="401.34" y="165.67" width="3.05" height="25.75" fill="#fff" stroke="#000" stroke-width="0.95"/><rect x="405" y="157.67" width="3.05" height="1.65" fill="#fff" stroke="#000" stroke-width="0.95"/><rect x="408.65" y="135.38" width="3.05" height="17.75" fill="#fff" stroke="#000" stroke-width="0.95"/><rect x="412.03" y="121.6" width="3.6" height="8.9" fill="#000"/><rect x="415.69" y="135.8" width="3.6" height="20.5" fill="#000"/><rect x="419.34" y="156.3" width="3.6" height="21.3" fill="#000"/><rect x="423.27" y="170.97" width="3.05" height="6.15" fill="#fff" stroke="#000" stroke-width="0.95"/><rect x="426.93" y="154.07" width="3.05" height="12.45" fill="#fff" stroke="#000" stroke-width="0.95"/><rect x="430.31" y="164.3" width="3.6" height="5.3" fill="#000"/><rect x="433.97" y="167.8" width="3.6" height="7.2" fill="#000"/><rect x="437.9" y="142.47" width="3.05" height="20.45" fill="#fff" stroke="#000" stroke-width="0.95"/><rect x="441.28" y="151.8" width="3.6" height="7.2" fill="#000"/><rect x="445.21" y="182.38" width="3.05" height="8.35" fill="#fff" stroke="#000" stroke-width="0.95"/><rect x="448.59" y="161.5" width="3.6" height="23.8" fill="#000"/><rect x="452.25" y="183.6" width="3.6" height="3.4" fill="#000"/><rect x="455.9" y="192" width="3.6" height="6" fill="#000"/><rect x="459.56" y="188.6" width="3.6" height="2.6" fill="#000"/><rect x="463.21" y="181.9" width="3.6" height="1.7" fill="#000"/><rect x="467.14" y="180.67" width="3.05" height="15.95" fill="#fff" stroke="#000" stroke-width="0.95"/><rect x="470.53" y="182.7" width="3.6" height="21.2" fill="#000"/><rect x="474.18" y="194.6" width="3.6" height="5.1" fill="#000"/><rect x="478.11" y="196.78" width="3.05" height="8.35" fill="#fff" stroke="#000" stroke-width="0.95"/><rect x="481.77" y="184.47" width="3.05" height="1.05" fill="#fff" stroke="#000" stroke-width="0.95"/><rect x="485.15" y="189.5" width="3.6" height="5.9" fill="#000"/><rect x="488.8" y="187.8" width="3.6" height="1.7" fill="#000"/><rect x="492.46" y="183.6" width="3.6" height="8.4" fill="#000"/><rect x="496.39" y="191.67" width="3.05" height="2.45" fill="#fff" stroke="#000" stroke-width="0.95"/><rect x="500.05" y="185.78" width="3.05" height="10.05" fill="#fff" stroke="#000" stroke-width="0.95"/><rect x="503.7" y="173.88" width="3.05" height="5.85" fill="#fff" stroke="#000" stroke-width="0.95"/><rect x="507.36" y="156.88" width="3.05" height="8.45" fill="#fff" stroke="#000" stroke-width="0.95"/><rect x="510.74" y="143.7" width="3.6" height="12.7" fill="#000"/><rect x="514.39" y="163.2" width="3.6" height="8.5" fill="#000"/><rect x="518.33" y="161.97" width="3.05" height="14.35" fill="#fff" stroke="#000" stroke-width="0.95"/><rect x="521.71" y="152.2" width="3.6" height="10.2" fill="#000"/><rect x="525.36" y="160.7" width="3.6" height="1.7" fill="#000"/><rect x="529.29" y="160.67" width="3.05" height="0.3" fill="#fff" stroke="#000" stroke-width="0.95"/><rect x="532.67" y="160.7" width="3.6" height="1" fill="#000"/><rect x="536.33" y="165.8" width="3.6" height="5.9" fill="#000"/><rect x="540.26" y="161.17" width="3.05" height="2.35" fill="#fff" stroke="#000" stroke-width="0.95"/><rect x="543.64" y="163.2" width="3.6" height="11" fill="#000"/><rect x="547.3" y="170" width="3.6" height="4.2" fill="#000"/><rect x="550.95" y="170.9" width="3.6" height="1.5" fill="#000"/><rect x="554.88" y="171.47" width="3.05" height="0.3" fill="#fff" stroke="#000" stroke-width="0.95"/><rect x="558.54" y="174.38" width="3.05" height="2.15" fill="#fff" stroke="#000" stroke-width="0.95"/><rect x="562.2" y="163.67" width="3.05" height="3.65" fill="#fff" stroke="#000" stroke-width="0.95"/><rect x="565.85" y="162.17" width="3.05" height="2.15" fill="#fff" stroke="#000" stroke-width="0.95"/><rect x="569.51" y="110.38" width="3.05" height="50.75" fill="#fff" stroke="#000" stroke-width="0.95"/><rect x="573.16" y="102.77" width="3.05" height="15.15" fill="#fff" stroke="#000" stroke-width="0.95"/><rect x="576.54" y="87" width="3.6" height="58.5" fill="#000"/><rect x="580.2" y="159.4" width="3.6" height="45.8" fill="#000"/><rect x="583.85" y="199.1" width="3.6" height="3.8" fill="#000"/><rect x="587.79" y="185.07" width="3.05" height="8.95" fill="#fff" stroke="#000" stroke-width="0.95"/><rect x="591.17" y="186.9" width="3.6" height="23.7" fill="#000"/><rect x="595.1" y="210.47" width="3.05" height="0.55" fill="#fff" stroke="#000" stroke-width="0.95"/><rect x="598.48" y="200.4" width="3.6" height="8.5" fill="#000"/><rect x="602.41" y="171.28" width="3.05" height="24.45" fill="#fff" stroke="#000" stroke-width="0.95"/><rect x="606.06" y="159.38" width="3.05" height="10.95" fill="#fff" stroke="#000" stroke-width="0.95"/><rect x="609.72" y="149.17" width="3.05" height="3.35" fill="#fff" stroke="#000" stroke-width="0.95"/><rect x="613.1" y="153" width="3.6" height="13.5" fill="#000"/><rect x="616.76" y="177.5" width="3.6" height="4.3" fill="#000"/><rect x="620.41" y="184.3" width="3.6" height="6" fill="#000"/><rect x="624.34" y="193.28" width="3.05" height="1.55" fill="#fff" stroke="#000" stroke-width="0.95"/><rect x="627.72" y="193.6" width="3.6" height="7.7" fill="#000"/><rect x="631.38" y="201.3" width="3.6" height="11.8" fill="#000"/><rect x="635.31" y="197.47" width="3.05" height="4.15" fill="#fff" stroke="#000" stroke-width="0.95"/><rect x="638.97" y="198.97" width="3.05" height="0.3" fill="#fff" stroke="#000" stroke-width="0.95"/><rect x="642.62" y="200.88" width="3.05" height="2.45" fill="#fff" stroke="#000" stroke-width="0.95"/><rect x="646.28" y="178.88" width="3.05" height="24.45" fill="#fff" stroke="#000" stroke-width="0.95"/><rect x="649.93" y="173.38" width="3.05" height="15.15" fill="#fff" stroke="#000" stroke-width="0.95"/><rect x="653.59" y="125.88" width="3.05" height="45.65" fill="#fff" stroke="#000" stroke-width="0.95"/><rect x="656.97" y="107.6" width="3.6" height="6" fill="#000"/><rect x="660.9" y="96.27" width="3.05" height="16.85" fill="#fff" stroke="#000" stroke-width="0.95"/><rect x="664.56" y="94.47" width="3.05" height="5.85" fill="#fff" stroke="#000" stroke-width="0.95"/><rect x="668.21" y="75.88" width="3.05" height="15.15" fill="#fff" stroke="#000" stroke-width="0.95"/><rect x="671.87" y="58.98" width="3.05" height="21.05" fill="#fff" stroke="#000" stroke-width="0.95"/><rect x="675.52" y="73.38" width="3.05" height="2.45" fill="#fff" stroke="#000" stroke-width="0.95"/><rect x="678.91" y="106.8" width="3.6" height="17.8" fill="#000"/><rect x="682.56" y="119.5" width="3.6" height="39" fill="#000"/><rect x="686.22" y="159.3" width="3.6" height="6" fill="#000"/><rect x="689.87" y="165.3" width="3.6" height="5" fill="#000"/><rect x="693.53" y="164.4" width="3.6" height="11.9" fill="#000"/><rect x="697.46" y="172.78" width="3.05" height="4.75" fill="#fff" stroke="#000" stroke-width="0.95"/><rect x="701.12" y="164.47" width="3.05" height="6.45" fill="#fff" stroke="#000" stroke-width="0.95"/><rect x="704.77" y="144.88" width="3.05" height="13.95" fill="#fff" stroke="#000" stroke-width="0.95"/><rect x="708.43" y="139.28" width="3.05" height="4.65" fill="#fff" stroke="#000" stroke-width="0.95"/><rect x="712.08" y="123.38" width="3.05" height="14.95" fill="#fff" stroke="#000" stroke-width="0.95"/><rect x="715.46" y="120.1" width="3.6" height="10.3" fill="#000"/><rect x="719.39" y="126.17" width="3.05" height="3.75" fill="#fff" stroke="#000" stroke-width="0.95"/><rect x="723.05" y="128.97" width="3.05" height="6.55" fill="#fff" stroke="#000" stroke-width="0.95"/><rect x="726.43" y="119.2" width="3.6" height="26.1" fill="#000"/><rect x="730.36" y="144.88" width="3.05" height="0.85" fill="#fff" stroke="#000" stroke-width="0.95"/><rect x="734.02" y="123.38" width="3.05" height="19.55" fill="#fff" stroke="#000" stroke-width="0.95"/><rect x="737.4" y="123.2" width="3.6" height="7.6" fill="#000"/><rect x="741.33" y="118.57" width="3.05" height="5.85" fill="#fff" stroke="#000" stroke-width="0.95"/><rect x="744.71" y="116.4" width="3.6" height="6" fill="#000"/><rect x="748.64" y="87.27" width="3.05" height="33.75" fill="#fff" stroke="#000" stroke-width="0.95"/><rect x="752.02" y="86.8" width="3.6" height="15.2" fill="#000"/><rect x="755.68" y="113" width="3.6" height="6" fill="#000"/><rect x="759.33" y="124.9" width="3.6" height="6.8" fill="#000"/><rect x="762.99" y="133.4" width="3.6" height="19.5" fill="#000"/><rect x="766.92" y="134.67" width="3.05" height="17.75" fill="#fff" stroke="#000" stroke-width="0.95"/><rect x="770.58" y="130.67" width="3.05" height="11.25" fill="#fff" stroke="#000" stroke-width="0.95"/><rect x="773.96" y="136.8" width="3.6" height="2.5" fill="#000"/><rect x="777.89" y="138.47" width="3.05" height="0.3" fill="#fff" stroke="#000" stroke-width="0.95"/><rect x="781.27" y="142.7" width="3.6" height="16.1" fill="#000"/><rect x="784.92" y="162" width="3.6" height="12.7" fill="#000"/><rect x="788.58" y="172.2" width="3.6" height="4.2" fill="#000"/><rect x="792.51" y="169.47" width="3.05" height="0.3" fill="#fff" stroke="#000" stroke-width="0.95"/><rect x="796.17" y="149.78" width="3.05" height="19.45" fill="#fff" stroke="#000" stroke-width="0.95"/><rect x="799.55" y="148.5" width="3.6" height="18.6" fill="#000"/><rect x="803.48" y="156.57" width="3.05" height="10.05" fill="#fff" stroke="#000" stroke-width="0.95"/><rect x="806.86" y="155.3" width="3.6" height="34.7" fill="#000"/><rect x="810.79" y="184.47" width="3.05" height="1.05" fill="#fff" stroke="#000" stroke-width="0.95"/><rect x="814.17" y="174.7" width="3.6" height="16.1" fill="#000"/><rect x="817.83" y="176.4" width="3.6" height="4.3" fill="#000"/><rect x="821.76" y="181.17" width="3.05" height="11.75" fill="#fff" stroke="#000" stroke-width="0.95"/><rect x="825.41" y="190.47" width="3.05" height="1.55" fill="#fff" stroke="#000" stroke-width="0.95"/><rect x="828.79" y="192.5" width="3.6" height="5.1" fill="#000"/><rect x="832.45" y="201.9" width="3.6" height="11.8" fill="#000"/><rect x="836.38" y="225.97" width="3.05" height="0.55" fill="#fff" stroke="#000" stroke-width="0.95"/><rect x="840.04" y="218.97" width="3.05" height="0.35" fill="#fff" stroke="#000" stroke-width="0.95"/><rect x="843.42" y="219.4" width="3.6" height="3.8" fill="#000"/><rect x="847.35" y="217.57" width="3.05" height="8.25" fill="#fff" stroke="#000" stroke-width="0.95"/><rect x="850.73" y="201.9" width="3.6" height="11.4" fill="#000"/><rect x="854.66" y="203.07" width="3.05" height="13.55" fill="#fff" stroke="#000" stroke-width="0.95"/><rect x="858.31" y="187.88" width="3.05" height="10.45" fill="#fff" stroke="#000" stroke-width="0.95"/><rect x="861.7" y="176.7" width="3.6" height="5.3" fill="#000"/><rect x="865.35" y="179.7" width="3.6" height="8.4" fill="#000"/><rect x="869.28" y="177.17" width="3.05" height="8.95" fill="#fff" stroke="#000" stroke-width="0.95"/><rect x="872.66" y="179.7" width="3.6" height="19.9" fill="#000"/><rect x="876.32" y="200.3" width="3.6" height="27.7" fill="#000"/><rect x="880.25" y="220.97" width="3.05" height="1.55" fill="#fff" stroke="#000" stroke-width="0.95"/><rect x="883.91" y="209.07" width="3.05" height="8.45" fill="#fff" stroke="#000" stroke-width="0.95"/><rect x="887.56" y="199.78" width="3.05" height="17.75" fill="#fff" stroke="#000" stroke-width="0.95"/><rect x="890.94" y="194.2" width="3.6" height="9.4" fill="#000"/><rect x="894.6" y="207" width="3.6" height="1.6" fill="#000"/><rect x="898.53" y="176.88" width="3.05" height="41.45" fill="#fff" stroke="#000" stroke-width="0.95"/><rect x="901.91" y="159.5" width="3.6" height="3.4" fill="#000"/><rect x="905.57" y="166.3" width="3.6" height="15.2" fill="#000"/>
<rect x="12.9" y="6.9" width="997.8" height="506.6" fill="none" stroke="#f0f0f0" stroke-width="1.8"/>
<use href="#g_a" x="24" y="18.5" width="13.5" height="13.5" style="color:#131722"/><use href="#g_ru" x="38" y="18.5" width="13.5" height="13.5" style="color:#131722"/><use href="#g_pe" x="54" y="18.5" width="14" height="14" style="color:#131722"/><use href="#g_n" x="69.5" y="18.5" width="13.5" height="13.5" style="color:#131722"/><circle cx="90.4" cy="26.4" r="1.35" fill="#131722"/><text x="97.6" y="31" font-size="15" fill="#131722" stroke="#131722" stroke-width="0.3">1</text><use href="#g_hi" x="106.5" y="18.5" width="13.5" height="13.5" style="color:#131722"/><circle cx="128.3" cy="26.4" r="1.35" fill="#131722"/><text x="136.6" y="31" font-size="15" fill="#131722" stroke="#131722" stroke-width="0.3" textLength="23" lengthAdjust="spacingAndGlyphs">TSE</text><use href="#g_haji" x="169.3" y="18.5" width="14.5" height="14.5" style="color:#131722"/><use href="#g_ne" x="184.1" y="18.5" width="14.5" height="14.5" style="color:#131722"/><text x="199.6" y="31" font-size="15" fill="#131722" stroke="#131722" stroke-width="0.3" textLength="36.6" lengthAdjust="spacingAndGlyphs">2,340</text><use href="#g_taka" x="246.5" y="18.5" width="14.5" height="14.5" style="color:#131722"/><use href="#g_ne" x="261.3" y="18.5" width="14.5" height="14.5" style="color:#131722"/><text x="277.2" y="31" font-size="15" fill="#131722" stroke="#131722" stroke-width="0.3" textLength="35.1" lengthAdjust="spacingAndGlyphs">2,340</text><use href="#g_yasu" x="322.6" y="18.5" width="14.5" height="14.5" style="color:#131722"/><use href="#g_ne" x="337.4" y="18.5" width="14.5" height="14.5" style="color:#131722"/><text x="354" y="31" font-size="15" fill="#131722" stroke="#131722" stroke-width="0.3" textLength="35" lengthAdjust="spacingAndGlyphs">2,301</text><use href="#g_owa" x="399.6" y="18.5" width="14.5" height="14.5" style="color:#131722"/><use href="#g_ne" x="414.4" y="18.5" width="14.5" height="14.5" style="color:#131722"/><text x="429.9" y="31" font-size="15" fill="#131722" stroke="#131722" stroke-width="0.3" textLength="35.7" lengthAdjust="spacingAndGlyphs">2,319</text><text x="476.6" y="31" font-size="15" fill="#131722" stroke="#131722" stroke-width="0.3" textLength="23.4" lengthAdjust="spacingAndGlyphs">−26</text><text x="504.6" y="31" font-size="15" fill="#131722" stroke="#131722" stroke-width="0.3" textLength="56.4" lengthAdjust="spacingAndGlyphs">(−1.11%)</text><use href="#g_de" x="23.5" y="40" width="13.5" height="13.5" style="color:#131722"/><use href="#g_rai" x="37.5" y="40" width="13.5" height="13.5" style="color:#131722"/><use href="#g_taka" x="53.5" y="40" width="13.5" height="13.5" style="color:#131722"/><text x="78.2" y="52.6" font-size="15" fill="#131722" stroke="#131722" stroke-width="0.3" textLength="39.9" lengthAdjust="spacingAndGlyphs">75.8 K</text><text x="22.9" y="74" font-size="15" fill="#131722" stroke="#131722" stroke-width="0.3" textLength="113.4" lengthAdjust="spacingAndGlyphs">MA (25, close, 0)</text><text x="146" y="74" font-size="15" fill="#3fc3dc" stroke="#3fc3dc" stroke-width="0.3" textLength="35.1" lengthAdjust="spacingAndGlyphs">2,291</text><text x="22.9" y="95.8" font-size="15" fill="#131722" stroke="#131722" stroke-width="0.3" textLength="113.4" lengthAdjust="spacingAndGlyphs">MA (75, close, 0)</text><text x="146" y="95.8" font-size="15" fill="#ae98dc" stroke="#ae98dc" stroke-width="0.3" textLength="35.1" lengthAdjust="spacingAndGlyphs">2,347</text><text x="957.4" y="63" font-size="15" fill="#131722" stroke="#131722" stroke-width="0.3" textLength="36.8" lengthAdjust="spacingAndGlyphs">2,500</text><text x="957.4" y="130.64" font-size="15" fill="#131722" stroke="#131722" stroke-width="0.3" textLength="36.8" lengthAdjust="spacingAndGlyphs">2,400</text><text x="957.4" y="198.28" font-size="15" fill="#131722" stroke="#131722" stroke-width="0.3" textLength="36.8" lengthAdjust="spacingAndGlyphs">2,300</text><text x="957.4" y="265.92" font-size="15" fill="#131722" stroke="#131722" stroke-width="0.3" textLength="36.8" lengthAdjust="spacingAndGlyphs">2,200</text><text x="957.4" y="333.56" font-size="15" fill="#131722" stroke="#131722" stroke-width="0.3" textLength="36.8" lengthAdjust="spacingAndGlyphs">2,100</text><text x="957.4" y="401.2" font-size="15" fill="#131722" stroke="#131722" stroke-width="0.3" textLength="36.8" lengthAdjust="spacingAndGlyphs">2,000</text><text x="957.4" y="468.84" font-size="15" fill="#131722" stroke="#131722" stroke-width="0.3" textLength="36.8" lengthAdjust="spacingAndGlyphs">1,900</text><rect x="950.5" y="11.5" width="54.5" height="32" rx="5" fill="none" stroke="#ececec" stroke-width="1.2"/><text x="962.4" y="32.5" font-size="14.5" fill="#131722" stroke="#131722" stroke-width="0.3" textLength="23.6" lengthAdjust="spacingAndGlyphs">JPY</text><text x="53.89" y="501.9" font-size="15.4" fill="#131722" stroke="#131722" stroke-width="0.3" textLength="17.5" lengthAdjust="spacingAndGlyphs">12</text><use href="#g_tsuki" x="70.59" y="488.8" width="14.5" height="14.5" style="color:#131722"/><text x="204.27" y="501.9" font-size="15.4" fill="#131722" stroke="#131722" stroke-width="0.3" textLength="9.2" lengthAdjust="spacingAndGlyphs">2</text><use href="#g_tsuki" x="212.67" y="488.8" width="14.5" height="14.5" style="color:#131722"/><text x="270.07" y="501.9" font-size="15.4" fill="#131722" stroke="#131722" stroke-width="0.3" textLength="9.2" lengthAdjust="spacingAndGlyphs">3</text><use href="#g_tsuki" x="278.47" y="488.8" width="14.5" height="14.5" style="color:#131722"/><text x="343.19" y="501.9" font-size="15.4" fill="#131722" stroke="#131722" stroke-width="0.3" textLength="9.2" lengthAdjust="spacingAndGlyphs">4</text><use href="#g_tsuki" x="351.59" y="488.8" width="14.5" height="14.5" style="color:#131722"/><text x="419.96" y="501.9" font-size="15.4" fill="#131722" stroke="#131722" stroke-width="0.3" textLength="9.2" lengthAdjust="spacingAndGlyphs">5</text><use href="#g_tsuki" x="428.36" y="488.8" width="14.5" height="14.5" style="color:#131722"/><text x="493.08" y="501.9" font-size="15.4" fill="#131722" stroke="#131722" stroke-width="0.3" textLength="9.2" lengthAdjust="spacingAndGlyphs">6</text><use href="#g_tsuki" x="501.48" y="488.8" width="14.5" height="14.5" style="color:#131722"/><text x="569.85" y="501.9" font-size="15.4" fill="#131722" stroke="#131722" stroke-width="0.3" textLength="9.2" lengthAdjust="spacingAndGlyphs">7</text><use href="#g_tsuki" x="578.25" y="488.8" width="14.5" height="14.5" style="color:#131722"/><text x="650.28" y="501.9" font-size="15.4" fill="#131722" stroke="#131722" stroke-width="0.3" textLength="9.2" lengthAdjust="spacingAndGlyphs">8</text><use href="#g_tsuki" x="658.68" y="488.8" width="14.5" height="14.5" style="color:#131722"/><text x="723.39" y="501.9" font-size="15.4" fill="#131722" stroke="#131722" stroke-width="0.3" textLength="9.2" lengthAdjust="spacingAndGlyphs">9</text><use href="#g_tsuki" x="731.79" y="488.8" width="14.5" height="14.5" style="color:#131722"/><text x="792.36" y="501.9" font-size="15.4" fill="#131722" stroke="#131722" stroke-width="0.3" textLength="17.5" lengthAdjust="spacingAndGlyphs">10</text><use href="#g_tsuki" x="809.06" y="488.8" width="14.5" height="14.5" style="color:#131722"/><text x="872.79" y="501.9" font-size="15.4" fill="#131722" stroke="#131722" stroke-width="0.3" textLength="17.5" lengthAdjust="spacingAndGlyphs">11</text><use href="#g_tsuki" x="889.49" y="488.8" width="14.5" height="14.5" style="color:#131722"/><text x="130.26" y="501.9" font-size="15.4" fill="#131722" stroke="#131722" stroke-width="0.8" textLength="33" lengthAdjust="spacingAndGlyphs">2025</text><g fill="#121212"><path d="M15.5 541.9 H30.5 V560.6 H23.1 V549.2 H15.5 Z"/><circle cx="36.9" cy="545.8" r="3.8"/><path d="M44.8 541.9 H53 L45.6 560.6 H37.3 Z"/></g><text x="62.6" y="561.1" font-size="26.4" font-weight="bold" fill="#121212" textLength="151.6" lengthAdjust="spacingAndGlyphs">TradingView</text>
</svg></body></html>
